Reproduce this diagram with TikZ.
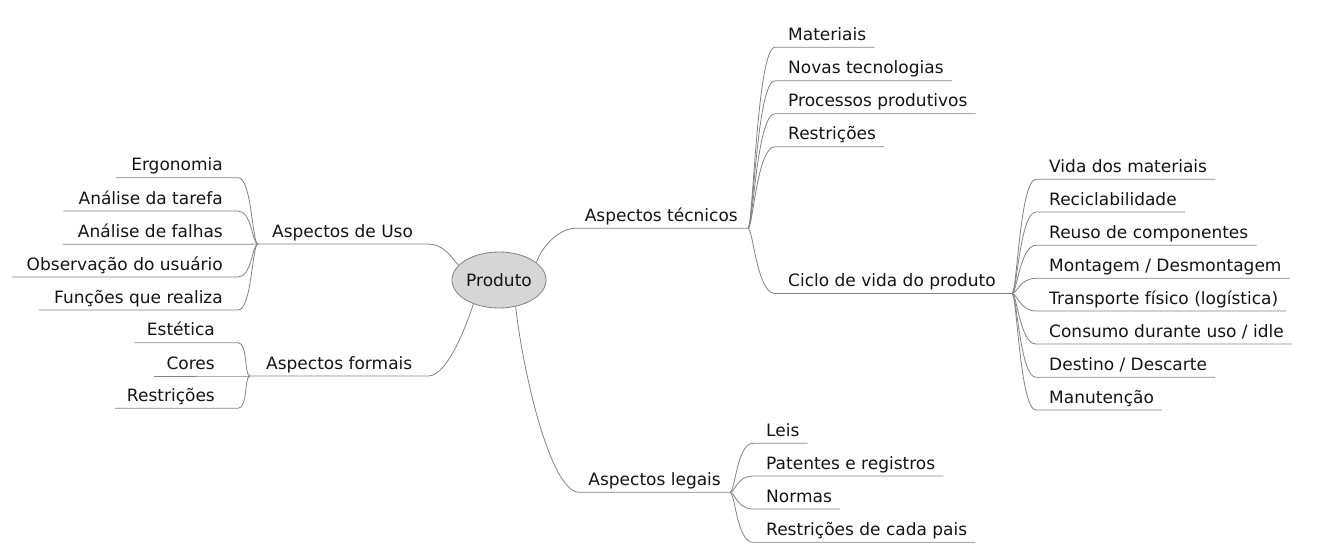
\documentclass[tikz,border=0pt]{standalone}
\usepackage{fontspec}
\usetikzlibrary{shapes.geometric}
\newfontfamily\dvs{DejaVu Sans}
\definecolor{lncol}{RGB}{130,130,130}
\definecolor{txtcol}{RGB}{20,20,20}
\definecolor{prodfill}{RGB}{214,214,214}
\begin{document}
\begin{tikzpicture}[x=1pt,y=-1pt,
  lbl/.style={inner ysep=2.7pt, text height=13pt, text depth=4pt,
    font=\dvs\fontsize{17}{20}\selectfont, text=txtcol},
  rleaf/.style={lbl, anchor=south west, inner xsep=8pt, execute at begin node={\kern5pt}},
  lleaf/.style={lbl, anchor=south east, inner xsep=15pt},
  fleaf/.style={lbl, anchor=south east, inner xsep=12pt, execute at end node={\kern11pt}},
  prodnode/.style={ellipse, draw=lncol, line width=0.8pt, fill=prodfill, minimum width=94pt,
    minimum height=56pt, inner sep=0pt, font=\dvs\fontsize{17}{20}\selectfont, text=txtcol},
  conn/.style={draw=lncol, line width=0.8pt},
]
\useasboundingbox (0,0) rectangle (1341,557);

% central node
\node[prodnode] (prod) at (499,280) {Produto};

% main branches
\node[lbl, anchor=south east, inner xsep=10pt] (tec) at (748,228.3) {Aspectos técnicos};
\node[lbl, anchor=south west, inner xsep=14pt] (uso) at (258,244) {Aspectos de Uso};
\node[lbl, anchor=south west, inner xsep=16pt] (form) at (250,376) {Aspectos formais};
\node[lbl, anchor=south east, inner xsep=9pt] (leg) at (730,492.3) {Aspectos legais};

\coordinate (jt) at (tec.south east);
\coordinate (ju) at (uso.south west);
\coordinate (jf) at (form.south west);
\coordinate (jl) at (leg.south east);

% Aspectos técnicos children
\node[rleaf] (mat) at (775,47.3) {Materiais};
\node[rleaf] (nov) at (775,80.7) {Novas tecnologias};
\node[rleaf] (pro) at (775,113.7) {Processos produtivos};
\node[rleaf] (res) at (775,146.7) {Restrições};
\node[rleaf] (cic) at (775,293.5) {Ciclo de vida do produto};
\coordinate (jc) at (1012,293.5);

% Ciclo de vida children
\node[rleaf] (c1) at (1036,179.3) {Vida dos materiais};
\node[rleaf] (c2) at (1036,212) {Reciclabilidade};
\node[rleaf] (c3) at (1036,245.3) {Reuso de componentes};
\node[rleaf] (c4) at (1036,278.3) {Montagem / Desmontagem};
\node[rleaf] (c5) at (1036,311) {Transporte físico (logística)};
\node[rleaf] (c6) at (1036,344) {Consumo durante uso / idle};
\node[rleaf] (c7) at (1036,377.3) {Destino / Descarte};
\node[rleaf] (c8) at (1036,410) {Manutenção};

% Aspectos legais children
\node[rleaf] (l1) at (753,443.3) {Leis};
\node[rleaf] (l2) at (753,476) {Patentes e registros};
\node[rleaf] (l3) at (753,509) {Normas};
\node[rleaf] (l4) at (753,542.3) {Restrições de cada pais};

% Aspectos de Uso children
\node[lleaf] (u1) at (238,177.7) {Ergonomia};
\node[lleaf] (u2) at (238,211) {Análise da tarefa};
\node[lleaf] (u3) at (238,244.3) {Análise de falhas};
\node[lleaf] (u4) at (238,277) {Observação do usuário};
\node[lleaf] (u5) at (238,310) {Funções que realiza};

% Aspectos formais children
\node[fleaf] (f1) at (238,342.7) {Estética};
\node[fleaf] (f2) at (238,376) {Cores};
\node[fleaf] (f3) at (238,408.3) {Restrições};

% connectors from the centre
\draw[conn] (prod.25) .. controls +(6,-18) and +(-14,0) .. (tec.south west) -- (tec.south east);
\draw[conn] (prod.160) .. controls +(-10,-12) and +(15,0) .. (uso.south east) -- (uso.south west);
\draw[conn] (prod.223) .. controls +(-8,25) and +(18,0) .. (form.south east) -- (form.south west);
\draw[conn] (prod.302) .. controls +(8,70) and +(-28,0) .. (leg.south west) -- (leg.south east);

% technical branch
\foreach \n in {mat,nov,pro,res}
  \draw[conn] (jt) .. controls +(5,0) and +(-18,0) .. (\n.south west) -- (\n.south east);
\draw[conn] (jt) .. controls +(5,0) and +(-18,0) .. (cic.south west) -- (jc);
\foreach \n in {c1,c2,c3,c4,c5,c6,c7,c8}
  \draw[conn] (jc) .. controls +(5,0) and +(-16,0) .. (\n.south west) -- (\n.south east);

% legal branch
\foreach \n in {l1,l2,l3,l4}
  \draw[conn] (jl) .. controls +(5,0) and +(-16,0) .. (\n.south west) -- (\n.south east);

% use branch
\foreach \n in {u1,u2,u3,u4,u5}
  \draw[conn] (ju) .. controls +(-6,0) and +(14,0) .. (\n.south east) -- (\n.south west);

% formal branch
\foreach \n in {f1,f2,f3}
  \draw[conn] (jf) .. controls +(-6,0) and +(10,0) .. (\n.south east) -- (\n.south west);
\end{tikzpicture}
\end{document}
